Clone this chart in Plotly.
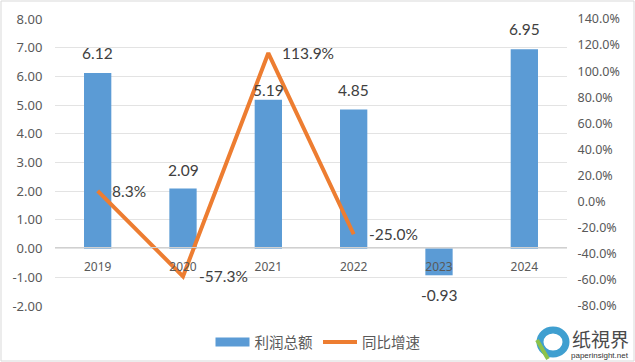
import plotly.graph_objects as go

years = ["2019", "2020", "2021", "2022", "2023", "2024"]
profit = [6.12, 2.09, 5.19, 4.85, -0.93, 6.95]
growth = [8.3, -57.3, 113.9, -25.0, None, None]
profit_labels = ["6.12", "2.09", "5.19", "4.85", "-0.93", "6.95"]
growth_labels = ["8.3%", "-57.3%", "113.9%", "-25.0%"]
left_ticks = [8, 7, 6, 5, 4, 3, 2, 1, 0, -1, -2]
right_ticks = [140, 120, 100, 80, 60, 40, 20, 0, -20, -40, -60, -80]

W, H = 635, 362
L, R, T, B = 55, 68, 19, 56
GRID = "#e3e3e3"
TICK = "#595959"
LABEL = "#404040"


def px(v):
    return (v - L) / (W - L - R)


def py(v):
    return (H - B - v) / (H - T - B)


fig = go.Figure()
fig.add_bar(x=years, y=profit, name="利润总额", marker=dict(color="#5b9bd5", line_width=0),
            yaxis="y", showlegend=False)
fig.add_scatter(x=[None], y=[None], name="利润总额", mode="lines", yaxis="y",
                line=dict(color="#5b9bd5", width=9))
fig.add_scatter(x=years, y=growth, name="同比增速", mode="lines", yaxis="y2",
                line=dict(color="#ed7d31", width=4, shape="linear"))

# data labels, nudged as in the source chart (x = category index)
bar_shift = [(0, 20), (0, 19), (0, 10), (0, 19), (0, -20), (0, 20)]
for i, (v, t, (dx, dy)) in enumerate(zip(profit, profit_labels, bar_shift)):
    fig.add_annotation(x=i, y=v, xref="x", yref="y", text=t, showarrow=False,
                       xshift=dx, yshift=dy, font=dict(family="Lato", size=15.5, color=LABEL))
line_shift = [(31, 0), (40, 0), (40, 0), (40, 0)]
for i, (v, t, (dx, dy)) in enumerate(zip(growth, growth_labels, line_shift)):
    fig.add_annotation(x=i, y=v, xref="x", yref="y2", text=t, showarrow=False,
                       xshift=dx, yshift=dy, font=dict(family="Lato", size=15.5, color=LABEL))

# watermark
fig.add_shape(type="circle", xref="paper", yref="paper", x0=px(540), x1=px(566), y0=py(354), y1=py(330),
              line=dict(color="#3f9fd0", width=7), fillcolor="white")
fig.add_shape(type="line", xref="paper", yref="paper", x0=px(537), x1=px(548), y0=py(340), y1=py(359),
              line=dict(color="#8cc24a", width=4))
fig.add_annotation(xref="paper", yref="paper", x=px(600), y=py(338), xanchor="center", yanchor="middle",
                   text="纸視界", showarrow=False,
                   font=dict(family="Noto Sans CJK TC", size=19, color="#4a4a4a"))
fig.add_annotation(xref="paper", yref="paper", x=px(600), y=py(355), xanchor="center", yanchor="middle",
                   text="paperinsight.net", showarrow=False,
                   font=dict(family="Liberation Sans", size=8, color="#333333"))

# outer frame
fig.add_shape(type="rect", xref="paper", yref="paper", x0=px(1), x1=px(634), y0=py(361), y1=py(1),
              line=dict(color="#d9d9d9", width=1))

fig.update_layout(
    width=W, height=H, margin=dict(l=L, r=R, t=T, b=B, autoexpand=False),
    paper_bgcolor="white", plot_bgcolor="white", bargap=0.68,
    font=dict(family="Noto Sans", color=TICK),
    xaxis=dict(type="category", categoryorder="array", categoryarray=years, range=[-0.5, 5.5],
               anchor="free", position=py(247), showline=True, linecolor="#d0d0d0", linewidth=1,
               showgrid=False, zeroline=False, ticks="outside", ticklen=9, tickcolor="rgba(0,0,0,0)",
               tickfont=dict(family="Noto Sans", size=12, color=TICK)),
    yaxis=dict(range=[-2, 8], tickvals=left_ticks, ticktext=[f"{v:.2f}" for v in left_ticks],
               gridcolor=GRID, gridwidth=1, zeroline=False, showline=False,
               tickfont=dict(family="Noto Sans", size=13, color=TICK), ticklen=9, ticks="outside",
               tickcolor="rgba(0,0,0,0)"),
    yaxis2=dict(overlaying="y", side="right", range=[-80, 140], tickvals=right_ticks,
                ticktext=[f"{v:.1f}%" for v in right_ticks], showgrid=False, zeroline=False, showline=False,
                tickfont=dict(family="Noto Sans", size=12.5, color=TICK), ticks="outside", ticklen=7,
                tickcolor="rgba(0,0,0,0)"),
    legend=dict(orientation="h", x=px(318), y=py(326), xanchor="center", yanchor="top",
                font=dict(family="Noto Sans CJK SC", size=14.5, color=TICK),
                itemwidth=34, bgcolor="rgba(0,0,0,0)"),
)
fig.write_html("out.html", config={"displayModeBar": False},
               post_script="document.body.style.margin='0';document.documentElement.style.overflow='hidden';")
